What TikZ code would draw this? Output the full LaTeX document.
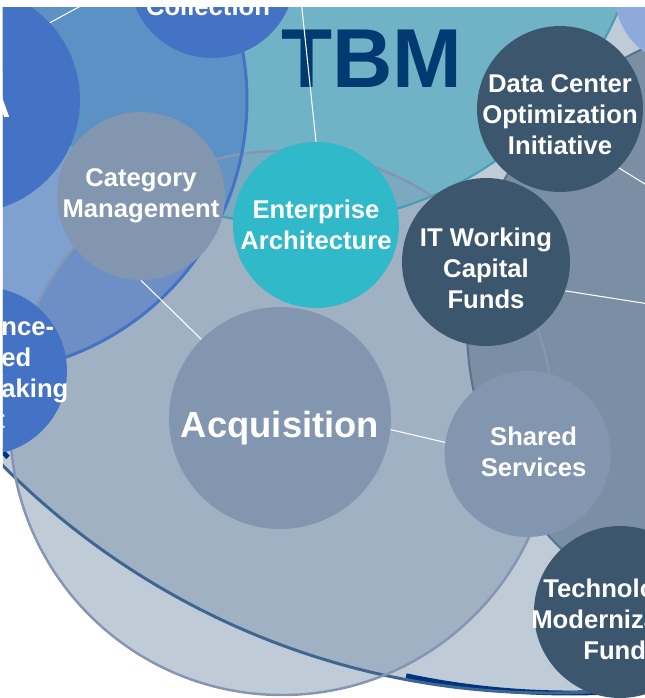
\documentclass[tikz,border=0pt]{standalone}
\usepackage{fontspec}
\setmainfont{Liberation Sans}
\usetikzlibrary{positioning}

\definecolor{SET_COLOR}{HTML}{C0CBD8}
\definecolor{GS_COLOR}{HTML}{A1B1C4}
\definecolor{R_COLOR}{HTML}{7B8FA4}
\definecolor{A_COLOR}{HTML}{7EA1D0}
\definecolor{AG_COLOR}{HTML}{6E8FC6}
\definecolor{TBM_COLOR}{HTML}{70B3C6}
\definecolor{TG_COLOR}{HTML}{7AA9C0}
\definecolor{TA_COLOR}{HTML}{5B91C4}
\definecolor{TAG_COLOR}{HTML}{6593C4}
\definecolor{GREY_BUB}{HTML}{8296AF}
\definecolor{TEAL_BUB}{HTML}{2FB9C9}
\definecolor{DARK_BUB}{HTML}{3C566D}
\definecolor{BLUE_BUB}{HTML}{4472C4}
\definecolor{LAV_BUB}{HTML}{8EAADB}
\definecolor{NAVY}{HTML}{003A70}

\newcommand{\lblfont}{\fontsize{14.6}{17.6}\selectfont\bfseries}
\newcommand{\bigfont}{\fontsize{20.7}{24}\selectfont\bfseries}
\newcommand{\titlefont}{\fontsize{47.6}{50}\selectfont\bfseries}

\tikzstyle{bubble}=[circle, inner sep=0pt]
\tikzstyle{grey_bub}=[bubble, fill=GREY_BUB]
\tikzstyle{teal_bub}=[bubble, fill=TEAL_BUB]
\tikzstyle{dark_bub}=[bubble, fill=DARK_BUB]
\tikzstyle{blue_bub}=[bubble, fill=BLUE_BUB]
\tikzstyle{lav_bub}=[bubble, fill=LAV_BUB]
\tikzstyle{bub_lbl}=[align=center, text=white, font=\lblfont, inner sep=0pt]
\tikzstyle{big_lbl}=[bub_lbl, font=\bigfont]
\tikzstyle{cut_lbl}=[bub_lbl, align=left, anchor=west]
\tikzstyle{link}=[draw=white, line width=0.6pt]
\tikzstyle{navy_rim}=[draw=NAVY!90!blue, line width=2.8pt]
\tikzstyle{steel_rim}=[draw={rgb,255:red,63;green,102;blue,144}, line width=1.7pt]
\tikzstyle{grey_rim}=[draw={rgb,255:red,133;green,149;blue,178}, line width=1.4pt]
\tikzstyle{r_rim}=[draw={rgb,255:red,90;green,116;blue,144}, line width=1.2pt]
\tikzstyle{tbm_rim}=[draw={rgb,255:red,70;green,160;blue,181}, line width=1.2pt]
\tikzstyle{blue_rim}=[draw=BLUE_BUB, line width=1.7pt]

\begin{document}
\begin{tikzpicture}[x=0.02cm, y=-0.02cm, node distance = 1cm and 0cm]
      \useasboundingbox (0,0) rectangle (645,698);
      \clip (3,7) rectangle (645,698);

      %%%%%%%%%%%%%%%%%%%%%%%%%%%%%%%%%%%%%%%%%%%%%%%%%
      % SET CIRCLES
      %%%%%%%%%%%%%%%%%%%%%%%%%%%%%%%%%%%%%%%%%%%%%%%%%
      \coordinate (Sc) at (550,-79);  % outer set
      \coordinate (Nc) at (570,-95);  % navy rim
      \coordinate (Gc) at (282,423);  % acquisition set
      \coordinate (Rc) at (775,327);  % right set
      \coordinate (Ac) at (-26,100);  % left set
      \coordinate (Tc) at (294,-129); % TBM set

      \fill[SET_COLOR] (Sc) circle (772);
      \fill[SET_COLOR] (Gc) circle (272);
      \begin{scope}
        \clip (Sc) circle (772);
        \fill[GS_COLOR] (Gc) circle (272);
        \fill[R_COLOR] (Rc) circle (308);
      \end{scope}
      \fill[A_COLOR] (Ac) circle (273);
      \begin{scope}
        \clip (Ac) circle (273);
        \fill[AG_COLOR] (Gc) circle (272);
      \end{scope}
      \fill[TBM_COLOR] (Tc) circle (353);
      \begin{scope}
        \clip (Tc) circle (353);
        \fill[TG_COLOR] (Gc) circle (272);
        \fill[TA_COLOR] (Ac) circle (273);
        \clip (Ac) circle (273);
        \fill[TAG_COLOR] (Gc) circle (272);
      \end{scope}

      % rims
      \draw[navy_rim] (Nc) ++(84:788) arc[start angle=84, end angle=102, radius=788];
      \draw[navy_rim] (Nc) ++(135.5:788) arc[start angle=135.5, end angle=141, radius=788];
      \draw[steel_rim] (Sc) circle (772);
      \draw[grey_rim] (Gc) circle (272);
      \draw[r_rim] (Rc) circle (308);
      \draw[tbm_rim] (Tc) circle (353);
      \draw[blue_rim] (Ac) circle (273);

      %%%%%%%%%%%%%%%%%%%%%%%%%%%%%%%%%%%%%%%%%%%%%%%%%
      % BUBBLES
      %%%%%%%%%%%%%%%%%%%%%%%%%%%%%%%%%%%%%%%%%%%%%%%%%
      \node[blue_bub, minimum size=4.52cm] (FA) at (-33,100) {};
      \node[big_lbl, anchor=east] (FA_txt) at (11,105) {A};
      \node[blue_bub, minimum size=3.32cm] (COL) at (212,-25) {};
      \node[bub_lbl, anchor=base] (COL_txt) at (208,15) {Collection};
      \node[blue_bub, minimum size=3.36cm] (EB) at (-17,371) {};
      \node[cut_lbl] (EB_txt) at (1,375) {nce-\\ed\\aking\\\hspace*{-0.1cm}t};
      \node[lav_bub, minimum size=2.8cm] (LAV) at (685,-5) {};

      \node[grey_bub, minimum size=3.36cm, label={[bub_lbl]center:Category\\Management}] (CM) at (141,196) {};
      \node[teal_bub, minimum size=3.32cm, label={[bub_lbl]center:Enterprise\\Architecture}] (EA) at (316,225) {};
      \node[grey_bub, minimum size=4.44cm, label={[big_lbl, yshift=-0.2cm]center:Acquisition}] (ACQ) at (280,418) {};
      \node[grey_bub, minimum size=3.32cm, below right= 0.72cm and 1.06cm of ACQ.east, anchor=west, label={[bub_lbl, xshift=0.12cm, yshift=0.05cm]center:Shared\\Services}] (SS) {};
      \node[dark_bub, minimum size=3.36cm, label={[bub_lbl, yshift=-0.12cm]center:IT Working\\Capital\\Funds}] (ITWCF) at (486,262) {};
      \node[dark_bub, minimum size=3.32cm, label={[bub_lbl, yshift=-0.11cm]center:Data Center\\Optimization\\Initiative}] (DCOI) at (560,109) {};
      \node[dark_bub, minimum size=3.44cm] (TMF) at (620,612) {};
      \node[cut_lbl] (TMF_txt) at (531,619) {\hspace*{0.24cm}Technolo\\Moderniza\\\hspace*{1.04cm}Fund};

      \node[text=NAVY, font=\titlefont, inner sep=0pt] (TBM) at (372,59) {TBM};

      %%%%%%%%%%%%%%%%%%%%%%%%%%%%%%%%%%%%%%%%%%%%%%%%%
      % LINKS
      %%%%%%%%%%%%%%%%%%%%%%%%%%%%%%%%%%%%%%%%%%%%%%%%%
      \coordinate (FA_end) at (112,-11);
      \coordinate (EA_end) at (300,-10);
      \coordinate (ITWCF_end) at (700,312);
      \coordinate (DCOI_end) at (700,218);
      \draw[link] (FA.43) -- (FA_end);
      \draw[link] (EA_end) -- (EA.north);
      \draw[link] (CM.south) -- (ACQ.135);
      \draw[link] (ACQ.-6) -- (SS.172);
      \draw[link] (ITWCF.-20) -- (ITWCF_end);
      \draw[link] (DCOI.-45) -- (DCOI_end);
\end{tikzpicture}
\end{document}
